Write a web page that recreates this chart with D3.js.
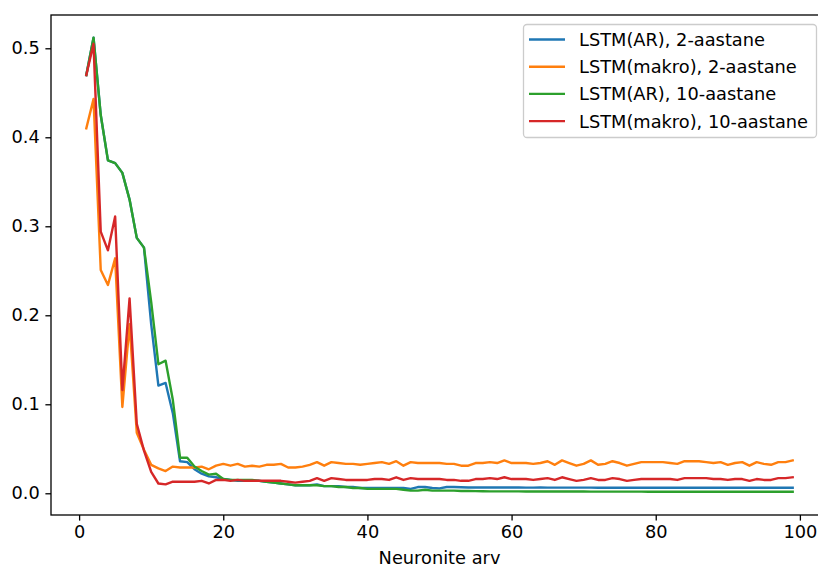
<!DOCTYPE html>
<html>
<head>
<meta charset="utf-8">
<script src="https://cdn.jsdelivr.net/npm/d3@7"></script>
<style>
    body { margin: 0; background: #fff; }
    text { font-family: "DejaVu Sans", sans-serif; fill: #000; }
    .line { fill: none; stroke-width: 2.4; stroke-linejoin: round; stroke-linecap: square; }
</style>
</head>
<body>
<svg id="chart"></svg>
<script>
// number of neurons on the x axis
var neurons = d3.range(1, 100);

var seriesNames = ["LSTM(AR), 2-aastane", "LSTM(makro), 2-aastane", "LSTM(AR), 10-aastane", "LSTM(makro), 10-aastane"];
var seriesColors = ["#1f77b4", "#ff7f0e", "#2ca02c", "#d62728"];

var xTicks = [0, 20, 40, 60, 80, 100];
var yTicks = [0, 0.1, 0.2, 0.3, 0.4, 0.5];

// LSTM(AR), 2-aastane
var ar2 = [0.470, 0.512, 0.425, 0.374, 0.371, 0.360, 0.330, 0.287, 0.276, 0.190,
    0.121, 0.124, 0.090, 0.036, 0.035, 0.027, 0.022, 0.019, 0.018, 0.016,
    0.015, 0.014, 0.014, 0.014, 0.014, 0.013, 0.012, 0.011, 0.010, 0.009,
    0.009, 0.009, 0.010, 0.008, 0.008, 0.008, 0.007, 0.007, 0.006, 0.006,
    0.006, 0.006, 0.006, 0.006, 0.006, 0.005, 0.007, 0.007, 0.006, 0.0055,
    0.007, 0.007, 0.0068, 0.0065, 0.0065, 0.0066, 0.0065, 0.0065, 0.0066, 0.0065,
    0.0065, 0.0064, 0.0064, 0.0065, 0.0064, 0.0064, 0.0064, 0.0064, 0.0064, 0.0064,
    0.0064, 0.0063, 0.0063, 0.0063, 0.0063, 0.0063, 0.0063, 0.0063, 0.0063, 0.0063,
    0.0063, 0.0063, 0.0063, 0.0063, 0.0063, 0.0063, 0.0063, 0.0063, 0.0063, 0.0063,
    0.0063, 0.0063, 0.0063, 0.0063, 0.0063, 0.0063, 0.0063, 0.0063, 0.0063];

// LSTM(makro), 2-aastane
var makro2 = [0.410, 0.443, 0.251, 0.234, 0.264, 0.097, 0.190, 0.068, 0.049, 0.032,
    0.028, 0.025, 0.030, 0.029, 0.029, 0.029, 0.030, 0.027, 0.031, 0.033,
    0.031, 0.033, 0.030, 0.031, 0.030, 0.032, 0.032, 0.033, 0.029, 0.029,
    0.030, 0.032, 0.035, 0.031, 0.035, 0.034, 0.033, 0.033, 0.032, 0.033,
    0.034, 0.035, 0.033, 0.036, 0.031, 0.035, 0.034, 0.034, 0.034, 0.034,
    0.033, 0.033, 0.031, 0.031, 0.034, 0.034, 0.035, 0.034, 0.037, 0.034,
    0.034, 0.034, 0.033, 0.034, 0.036, 0.032, 0.037, 0.034, 0.031, 0.033,
    0.037, 0.032, 0.033, 0.036, 0.034, 0.031, 0.033, 0.035, 0.035, 0.035,
    0.035, 0.034, 0.033, 0.036, 0.036, 0.036, 0.035, 0.034, 0.035, 0.032,
    0.034, 0.035, 0.031, 0.035, 0.033, 0.032, 0.035, 0.035, 0.037];

// LSTM(AR), 10-aastane
var ar10 = [0.470, 0.512, 0.425, 0.374, 0.371, 0.360, 0.330, 0.287, 0.276, 0.215,
    0.145, 0.149, 0.105, 0.040, 0.040, 0.030, 0.025, 0.021, 0.022, 0.016,
    0.015, 0.015, 0.015, 0.015, 0.014, 0.013, 0.012, 0.011, 0.010, 0.009,
    0.009, 0.009, 0.009, 0.008, 0.008, 0.007, 0.007, 0.006, 0.006, 0.005,
    0.005, 0.005, 0.005, 0.005, 0.004, 0.003, 0.003, 0.004, 0.003, 0.003,
    0.003, 0.003, 0.0025, 0.0025, 0.0024, 0.0023, 0.0022, 0.0022, 0.0022, 0.0021,
    0.0021, 0.002, 0.002, 0.002, 0.002, 0.002, 0.002, 0.002, 0.002, 0.002,
    0.0019, 0.0019, 0.0019, 0.0019, 0.0019, 0.0019, 0.0019, 0.0019, 0.0018, 0.0018,
    0.0018, 0.0018, 0.0018, 0.0018, 0.0018, 0.0018, 0.0018, 0.0018, 0.0018, 0.0018,
    0.0018, 0.0018, 0.0018, 0.0018, 0.0018, 0.0018, 0.0018, 0.0018, 0.0018];

// LSTM(makro), 10-aastane
var makro10 = [0.470, 0.505, 0.294, 0.273, 0.311, 0.116, 0.219, 0.078, 0.048, 0.024,
    0.011, 0.010, 0.013, 0.013, 0.013, 0.013, 0.014, 0.011, 0.015, 0.015,
    0.014, 0.015, 0.014, 0.014, 0.014, 0.014, 0.014, 0.014, 0.013, 0.012,
    0.013, 0.014, 0.017, 0.014, 0.017, 0.016, 0.015, 0.015, 0.015, 0.015,
    0.016, 0.016, 0.015, 0.018, 0.015, 0.017, 0.016, 0.016, 0.016, 0.016,
    0.015, 0.015, 0.014, 0.014, 0.016, 0.016, 0.017, 0.016, 0.018, 0.016,
    0.016, 0.016, 0.015, 0.016, 0.017, 0.015, 0.018, 0.016, 0.014, 0.015,
    0.017, 0.015, 0.015, 0.017, 0.016, 0.014, 0.015, 0.016, 0.016, 0.016,
    0.016, 0.016, 0.015, 0.017, 0.017, 0.017, 0.017, 0.016, 0.016, 0.015,
    0.016, 0.016, 0.014, 0.016, 0.015, 0.015, 0.017, 0.017, 0.018];

var seriesValues = [ar2, makro2, ar10, makro10];

// set the dimensions of the plot area (right spine sits just past the visible edge)
var width = 818, height = 569;
var plot = {left: 51, right: 828, top: 15, bottom: 515};
var fontSize = 17.8;

var svg = d3.select("#chart")
    .attr("width", width)
    .attr("height", height);

var x = d3.scaleLinear()
    .domain([-3.9, 103.9])
    .range([plot.left, plot.right]);

var y = d3.scaleLinear()
    .domain([-0.0244, 0.5374])
    .range([plot.bottom, plot.top]);

// axes
var xAxis = svg.append("g")
    .attr("transform", "translate(0," + plot.bottom + ")")
    .call(d3.axisBottom(x).tickValues(xTicks).tickSize(5.6).tickPadding(5).tickSizeOuter(0));

var yAxis = svg.append("g")
    .attr("transform", "translate(" + plot.left + ",0)")
    .call(d3.axisLeft(y).tickValues(yTicks).tickFormat(d3.format(".1f")).tickSize(5.6).tickPadding(5.6).tickSizeOuter(0));

[xAxis, yAxis].forEach(function(a) {
    a.select(".domain").remove();
    a.selectAll("line").attr("stroke", "#000").attr("stroke-width", 1.3);
    a.selectAll("text").attr("font-size", fontSize).attr("font-family", "DejaVu Sans").attr("fill", "#000");
});

// the lines, drawn in matplotlib order
var line = d3.line()
    .x(function(d, i) { return x(neurons[i]); })
    .y(function(d) { return y(d); });

svg.selectAll(".line")
    .data(seriesValues)
    .enter().append("path")
    .attr("class", "line")
    .attr("stroke", function(d, i) { return seriesColors[i]; })
    .attr("d", line);

// frame
svg.append("rect")
    .attr("x", plot.left)
    .attr("y", plot.top)
    .attr("width", plot.right - plot.left)
    .attr("height", plot.bottom - plot.top)
    .attr("fill", "none")
    .attr("stroke", "#000")
    .attr("stroke-width", 1.3);

// x label
svg.append("text")
    .attr("x", (plot.left + plot.right) / 2)
    .attr("y", 564)
    .attr("text-anchor", "middle")
    .attr("font-size", fontSize)
    .text("Neuronite arv");

// legend
var legend = svg.append("g");
legend.append("rect")
    .attr("x", 523.5)
    .attr("y", 24.5)
    .attr("width", 293)
    .attr("height", 113)
    .attr("rx", 3.5)
    .attr("fill", "#fff")
    .attr("fill-opacity", 0.8)
    .attr("stroke", "#ccc")
    .attr("stroke-width", 1.3);

var entry = legend.selectAll(".entry")
    .data(seriesNames)
    .enter().append("g")
    .attr("class", "entry")
    .attr("transform", function(d, i) { return "translate(0," + (39.5 + i * 27.2) + ")"; });

entry.append("line")
    .attr("x1", 529)
    .attr("x2", 565)
    .attr("stroke", function(d, i) { return seriesColors[i]; })
    .attr("stroke-width", 2.4);

entry.append("text")
    .attr("x", 579)
    .attr("dy", "0.36em")
    .attr("font-size", fontSize)
    .text(function(d) { return d; });
</script>
</body>
</html>
